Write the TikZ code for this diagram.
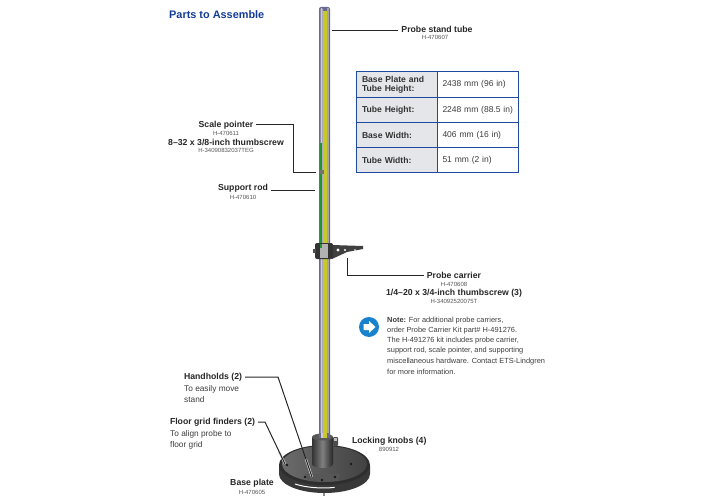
\documentclass[tikz,border=0pt]{standalone}
\usepackage{fontspec}
\setmainfont{Liberation Sans}
\usepackage{tikz}
\usepackage{xcolor}
\usetikzlibrary{arrows.meta, positioning, calc}
\definecolor{titleblue}{RGB}{20,60,150}
\definecolor{tableblue}{RGB}{30,75,160}
\definecolor{cellgrey}{RGB}{228,230,234}
\definecolor{iconblue}{RGB}{24,130,205}
\definecolor{numgrey}{RGB}{85,85,85}
\definecolor{textgrey}{RGB}{60,60,60}
\definecolor{tubeblue}{RGB}{105,105,145}
\definecolor{tubeyellow}{RGB}{200,200,40}
\definecolor{rodgreen}{RGB}{30,150,50}
\definecolor{platedark}{RGB}{50,50,54}
\tikzset{
  partname/.style={font=\fontsize{8.7}{10}\selectfont\bfseries,text=black!85,inner sep=0pt,outer sep=3pt},
  partnum/.style={font=\fontsize{6}{7}\selectfont,text=numgrey,inner sep=0pt},
  parttext/.style={font=\fontsize{8.3}{10}\selectfont,text=textgrey,inner sep=0pt,anchor=west},
  notetext/.style={font=\fontsize{7.4}{9}\selectfont,text=textgrey,inner sep=0pt,anchor=west},
  leader/.style={line width=1pt,black!85},
  halo/.style={line width=2.2pt,white!85!black},
  headcell/.style={draw=tableblue,line width=1pt,fill=cellgrey,minimum width=81pt,inner sep=0pt,anchor=north west,
    font=\fontsize{8.6}{9.2}\selectfont\bfseries,text=black!80,align=left,text width=70pt},
  valcell/.style={draw=tableblue,line width=1pt,fill=white,minimum width=81pt,inner sep=0pt,anchor=north west,
    font=\fontsize{8.5}{9}\selectfont,text=textgrey,align=left,text width=71pt},
}
\begin{document}
\begin{tikzpicture}[x=1pt,y=-1pt]
  \useasboundingbox (0,0) rectangle (720,500);
  \node[font=\fontsize{10.9}{12}\selectfont\bfseries,text=titleblue,inner sep=0pt,anchor=west] (title) at (169,15) {Parts to Assemble};
  % stand
  \fill[tubeblue,rounded corners=2pt] (319,7) rectangle (330,440);
  \fill[black!20,rounded corners=1pt] (320.5,8) rectangle (322.5,436);
  \fill[tubeyellow] (322.5,11) rectangle (326.5,436);
  \fill[black!35] (327,8) rectangle (328.5,436);
  \fill[rodgreen] (319.5,143) rectangle (322.3,243);
  \fill[black!55] (320,170) rectangle (324,174);
  % carrier
  \fill[black!75] (332,245) -- (363,246) -- (363,249) -- (347,252) -- (332,259) -- cycle;
  \foreach \hx/\hr in {338/1.6,345/1.2,355/0.8} \fill[white] (\hx,250) circle (\hr);
  \fill[black!80,rounded corners=2pt] (315,243) rectangle (333,259);
  \fill[black!70] (313,249) rectangle (316,253);
  \fill[black!30] (320,244) rectangle (328,258);
  \fill[rodgreen] (320,244) rectangle (322.3,248);
  % base plate
  \fill[black!45] (323,491) rectangle (325,496);
  \fill[black!78] (279,466) -- (279,474) arc[start angle=180,end angle=0,x radius=45.5,y radius=19] -- (370,466) -- cycle;
  \draw[white,line width=1pt] (295,484) arc[start angle=130,end angle=75,x radius=44,y radius=17];
  \fill[black!82] (324.5,465) ellipse [x radius=45.5,y radius=20];
  \shade[left color=black!58,right color=black!74] (324.5,464) ellipse [x radius=42.5,y radius=18];
  \fill[black!66] (305,474) -- (340,474) -- (338,481) -- (308,481) -- cycle;
  \foreach \hx/\hy in {287/465,351/464,305/477,322/480,335/477} \fill[black!90] (\hx,\hy) circle (1.3);
  % collar
  \shade[left color=black!80,right color=black!85,middle color=black!50]
    (312,437) -- (312,464) arc[start angle=180,end angle=0,x radius=10.5,y radius=4] -- (333,437) -- cycle;
  \fill[black!65] (322.5,437) ellipse [x radius=10.5,y radius=3.5];
  \fill[tubeblue] (319,433) rectangle (330,438);
  \fill[black!20] (320.5,433) rectangle (322.5,438);
  \fill[tubeyellow] (322.5,433) rectangle (326.5,438);
  \fill[black!70,rounded corners=1pt] (333,437) rectangle (338,446);
  \fill[black!25] (334,438) rectangle (337,441);
  % targets of the leaders
  \coordinate (tubept) at (332,31);
  \coordinate (ptrbend) at (293,172);
  \coordinate (ptrpt) at (316,172);
  \coordinate (rodpt) at (315,190);
  \coordinate (carrpt) at (347,258);
  \coordinate (holdbend) at (278,377);
  \coordinate (holdpt) at (312,477);
  \coordinate (gridbend) at (265,422);
  \coordinate (gridpt) at (285,464);
  % labels
  \node[partname] (tubelbl) at (437,29) {Probe stand tube};
  \node[partnum] (tubenum) at (435,37) {H-470607};
  \node[partname] (ptrlbl) at (226,125) {Scale pointer};
  \node[partnum] (ptrnum) at (226,133) {H-470611};
  \node[partname] (thumblbl) at (226,142) {8–32 x 3/8-inch thumbscrew};
  \node[partnum] (thumbnum) at (226,150) {H-34090832037TEG};
  \node[partname] (rodlbl) at (243,188) {Support rod};
  \node[partnum] (rodnum) at (243,197) {H-470610};
  \node[partname] (carrlbl) at (454,275) {Probe carrier};
  \node[partnum] (carrnum) at (454,284) {H-470608};
  \node[partname] (screwlbl) at (454,293) {1/4–20 x 3/4-inch thumbscrew (3)};
  \node[partnum] (screwnum) at (454,301) {H-34092520075T};
  \node[partname,anchor=west,outer sep=0pt] (holdlbl) at (184,377) {Handholds (2)};
  \node[parttext] (holdtxta) at (184,389) {To easily move};
  \node[parttext] (holdtxtb) at (184,400) {stand};
  \node[partname,anchor=west,outer sep=0pt] (gridlbl) at (170,422) {Floor grid finders (2)};
  \node[parttext] (gridtxta) at (170,434) {To align probe to};
  \node[parttext] (gridtxtb) at (170,445) {floor grid};
  \node[partname,anchor=west,outer sep=0pt] (knoblbl) at (352,441) {Locking knobs (4)};
  \node[partnum] (knobnum) at (389,449) {890912};
  \node[partname] (platelbl) at (252,483) {Base plate};
  \node[partnum] (platenum) at (252,492) {H-470605};
  % leaders
  \draw[leader] (tubept) -- (tubelbl.west |- tubept);
  \draw[leader] (ptrlbl.east) -| (ptrbend) -- (ptrpt);
  \draw[leader] (rodlbl.east |- rodpt) -- (rodpt);
  \draw[leader] (carrpt) |- (carrlbl.west);
  \draw[halo] ($(holdbend)!0.82!(holdpt)$) -- (holdpt);
  \draw[halo] ($(gridbend)!0.7!(gridpt)$) -- (gridpt);
  \draw[leader] ($(holdlbl.east)+(3,0)$) -- (holdbend) -- (holdpt);
  \draw[leader] ($(gridlbl.east)+(3,0)$) -- (gridbend) -- (gridpt);
  % table
  \node[headcell,minimum height=26pt] (hplate) at (356,71) {Base Plate and\\Tube Height:};
  \node[valcell,minimum height=26pt] (vplate) at (437,71) {2438 mm (96 in)};
  \node[headcell,minimum height=25pt] (htube) at (356,97) {Tube Height:};
  \node[valcell,minimum height=25pt] (vtube) at (437,97) {2248 mm (88.5 in)};
  \node[headcell,minimum height=25pt] (hbase) at (356,122) {Base Width:};
  \node[valcell,minimum height=25pt] (vbase) at (437,122) {406 mm (16 in)};
  \node[headcell,minimum height=25pt] (hwidth) at (356,147) {Tube Width:};
  \node[valcell,minimum height=25pt] (vwidth) at (437,147) {51 mm (2 in)};
  % note
  \node[circle,fill=iconblue,minimum size=20pt,inner sep=0pt] (noteicon) at (369,327) {};
  \fill[white,shift={(noteicon)}] (-5.5,-3) -- (0,-3) -- (0,-6) -- (6.5,0) -- (0,6) -- (0,3) -- (-5.5,3) -- cycle;
  \node[notetext] (notea) at (387,321) {\textbf{Note:} For additional probe carriers,};
  \node[notetext] (noteb) at (387,331) {order Probe Carrier Kit part\# H-491276.};
  \node[notetext] (notec) at (387,341) {The H-491276 kit includes probe carrier,};
  \node[notetext] (noted) at (387,351) {support rod, scale pointer, and supporting};
  \node[notetext] (notee) at (387,362) {miscellaneous hardware. Contact ETS-Lindgren};
  \node[notetext] (notef) at (387,372) {for more information.};
\end{tikzpicture}
\end{document}
